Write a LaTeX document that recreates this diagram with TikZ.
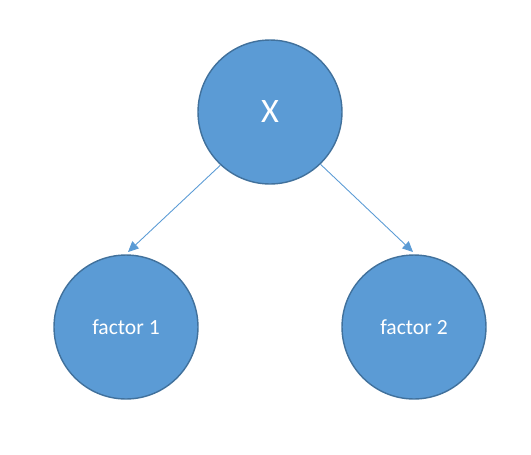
\documentclass[tikz,border=0pt]{standalone}
\usepackage{fontspec}
\setmainfont{Carlito}
\usetikzlibrary{arrows.meta}
\definecolor{nodeblue}{HTML}{5B9BD5}
\definecolor{nodeedge}{HTML}{41719C}
\tikzset{
  var/.style= {draw=nodeedge, fill=nodeblue, circle, line width=0.8pt,
    inner sep=0, minimum size=2.88cm, text=white},
  link/.style= {draw=nodeblue, line width=0.5pt,
    -{Triangle[length=6pt, width=5.5pt]}},
}
\begin{document}
\begin{tikzpicture}[x=0.02cm, y=-0.02cm]
  \useasboundingbox (0,0) rectangle (531,454);
  \node [var, font=\fontsize{19.5}{22}\selectfont] (x) at (270,112) {X} ;
  \node [var, font=\fontsize{12.3}{14}\selectfont] (f1) at (126,327) {factor 1} ;
  \node [var, font=\fontsize{12.3}{14}\selectfont] (f2) at (414,327) {factor 2} ;
  \coordinate (t1) at (128,252) ;
  \coordinate (t2) at (413,252) ;

  \draw [link] (x.227) -- (t1) ;
  \draw [link] (x.314) -- (t2) ;
\end{tikzpicture}
\end{document}
